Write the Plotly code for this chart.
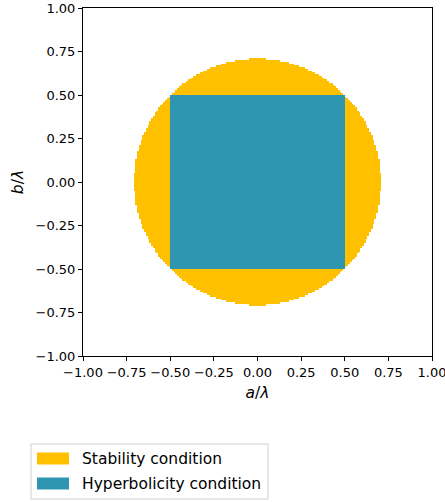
import numpy as np
import plotly.graph_objects as go

# ---- data ----
tick_values = [-1.0, -0.75, -0.5, -0.25, 0.0, 0.25, 0.5, 0.75, 1.0]
grid_n = 200                      # sampling resolution of the (a/λ, b/λ) plane
stability_radius_sq = 0.5         # a² + b² ≤ 1/2
hyperbolic_half_width = 0.5       # |a| ≤ 1/2 and |b| ≤ 1/2
legend_labels = ["Stability condition", "Hyperbolicity condition"]
region_colors = ["#FFC000", "#2E96B0"]

# ---- region masks on the grid ----
centers = -1 + (np.arange(grid_n) + 0.5) * 2 / grid_n
A, B = np.meshgrid(centers, centers)
stable = A**2 + B**2 <= stability_radius_sq
hyper = (np.abs(A) <= hyperbolic_half_width) & (np.abs(B) <= hyperbolic_half_width)
z = np.full((grid_n, grid_n), np.nan)
z[stable] = 1
z[hyper] = 2

fig = go.Figure()
fig.add_trace(go.Heatmap(
    x=centers, y=centers, z=z, zmin=1, zmax=2,
    colorscale=[[0, region_colors[0]], [0.5, region_colors[0]],
                [0.5, region_colors[1]], [1, region_colors[1]]],
    showscale=False, hoverinfo="skip"))

W, H = 445, 502
ml, mr, mt, mb = 83, 13, 8, 146
pw, ph = W - ml - mr, H - mt - mb


def px2x(px):
    return (px - ml) / pw


def py2y(py):
    return (H - mb - py) / ph


axis_common = dict(
    range=[-1, 1], tickvals=tick_values, tickformat=".2f", automargin=False,
    ticklabeloverflow="allow",
    showgrid=False, zeroline=False, showline=True, linecolor="black",
    linewidth=1, mirror=True, ticks="outside", ticklen=4, tickwidth=1,
    tickcolor="black", tickfont=dict(family="DejaVu Sans", size=13, color="black"),
)

fig.update_layout(
    width=W, height=H,
    margin=dict(l=ml, r=mr, t=mt, b=mb),
    paper_bgcolor="white", plot_bgcolor="white",
    xaxis=dict(**axis_common,
               title=dict(text="<i>a</i>/<i>λ</i>", standoff=8,
                          font=dict(family="DejaVu Sans", size=15.5, color="black"))),
    yaxis=dict(**axis_common,
               title=dict(text="<i>b</i>/<i>λ</i>", standoff=8,
                          font=dict(family="DejaVu Sans", size=15.5, color="black"))),
    showlegend=False,
)

# ---- matplotlib-style legend box below the axes ----
shapes = [dict(type="rect", xref="paper", yref="paper",
               x0=px2x(31), x1=px2x(268), y0=py2y(444), y1=py2y(499),
               line=dict(color="#D0D0D0", width=1), fillcolor="white")]
patch_rows = [(452.5, 464.5), (477.5, 489.5)]
for (t, b), col, lab in zip(patch_rows, region_colors, legend_labels):
    shapes.append(dict(type="rect", xref="paper", yref="paper",
                       x0=px2x(37), x1=px2x(69), y0=py2y(b), y1=py2y(t),
                       line=dict(width=0), fillcolor=col))
    fig.add_annotation(xref="paper", yref="paper", x=px2x(80), y=py2y((t + b) / 2),
                       text=lab, showarrow=False, xanchor="left", yanchor="middle",
                       font=dict(family="DejaVu Sans", size=15.5, color="black"))
fig.update_layout(shapes=shapes)

fig.write_html("out.html", config={"displayModeBar": False},
               post_script="document.body.style.margin='0';document.body.style.overflow='hidden';")
